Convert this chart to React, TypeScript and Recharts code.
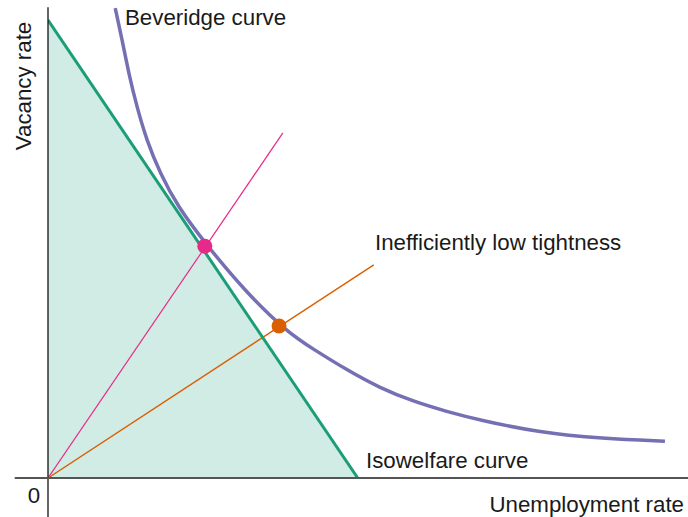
import {
  ComposedChart,
  Line,
  Area,
  Scatter,
  XAxis,
  YAxis,
  ReferenceLine,
} from "recharts";

// Beveridge curve (unemployment, vacancy)
const bevU = [1.05, 1.16, 1.26, 1.39, 1.54, 1.75, 2.03, 2.45, 3.09, 3.73, 4.15, 4.67, 5.19, 5.71, 6.23, 6.75, 7.64, 8.67, 9.64];
const bevV = [9.83, 9.16, 8.47, 7.76, 7.07, 6.38, 5.67, 4.92, 3.89, 3.06, 2.69, 2.26, 1.88, 1.6, 1.39, 1.21, 0.96, 0.82, 0.77];

// isowelfare line endpoints
const isoU = [0, 4.84];
const isoV = [9.58, 0];

// rays from the origin
const efficientRayU = [0, 3.67];
const efficientRayV = [0, 7.22];
const lowRayU = [0, 5.09];
const lowRayV = [0, 4.46];

// equilibrium points
const efficientPoint = { x: 2.45, y: 4.85 };
const lowPoint = { x: 3.61, y: 3.18 };

const toRows = (xs: number[], ys: number[]) => xs.map((x, i) => ({ x, y: ys[i] }));

const bevData = toRows(bevU, bevV);
const isoData = toRows(isoU, isoV);
const effRay = toRows(efficientRayU, efficientRayV);
const lowRay = toRows(lowRayU, lowRayV);

const font = "'Liberation Sans', Arial, Helvetica, sans-serif";
const txt = { fontFamily: font, fontSize: 22.3, fill: "#1a1a1a" };

const dot = (color: string) => (props: any) => (
  <circle cx={props.cx} cy={props.cy} r={7.5} fill={color} />
);

export default function App() {
  return (
    <div style={{ position: "absolute", left: 0, top: 0, background: "#fff" }}>
      <ComposedChart
        width={688}
        height={517}
        margin={{ top: 0, right: 0, left: 48, bottom: 39 }}
      >
        <XAxis type="number" dataKey="x" domain={[0, 10]} hide allowDataOverflow />
        <YAxis type="number" dataKey="y" domain={[0, 10]} hide allowDataOverflow />

        <Line data={effRay} dataKey="y" type="linear" stroke="#e7298a" strokeWidth={1.2} dot={false} isAnimationActive={false} />
        <Line data={lowRay} dataKey="y" type="linear" stroke="#d95f02" strokeWidth={1.4} dot={false} isAnimationActive={false} />

        <Area data={isoData} dataKey="y" type="linear" stroke="none" fill="#1b9e77" fillOpacity={0.2} baseValue={0} isAnimationActive={false} />
        <Line data={isoData} dataKey="y" type="linear" stroke="#1b9e77" strokeWidth={3} dot={false} isAnimationActive={false} />

        <Line data={bevData} dataKey="y" type="basis" stroke="#7570b3" strokeWidth={3.5} dot={false} isAnimationActive={false} />

        <ReferenceLine
          segment={[{ x: 0, y: -0.82 }, { x: 0, y: 9.85 }]}
          stroke="#111"
          strokeWidth={1.3}
          ifOverflow="visible"
        />
        <ReferenceLine
          segment={[{ x: -0.52, y: 0 }, { x: 10, y: 0 }]}
          stroke="#555"
          strokeWidth={2.2}
          ifOverflow="visible"
        />

        <Scatter data={[efficientPoint]} dataKey="y" shape={dot("#e7298a")} isAnimationActive={false} />
        <Scatter data={[lowPoint]} dataKey="y" shape={dot("#d95f02")} isAnimationActive={false} />

        <text x={31} y={86} textAnchor="middle" transform="rotate(-90, 31, 86)" style={txt}>
          Vacancy rate
        </text>
        <text x={34} y={503} textAnchor="middle" style={txt}>0</text>
        <text x={684} y={512} textAnchor="end" style={txt}>Unemployment rate</text>
        <text x={125} y={25} style={txt}>Beveridge curve</text>
        <text x={375} y={250} style={txt}>Inefficiently low tightness</text>
        <text x={366} y={468} style={txt}>Isowelfare curve</text>
      </ComposedChart>
    </div>
  );
}
